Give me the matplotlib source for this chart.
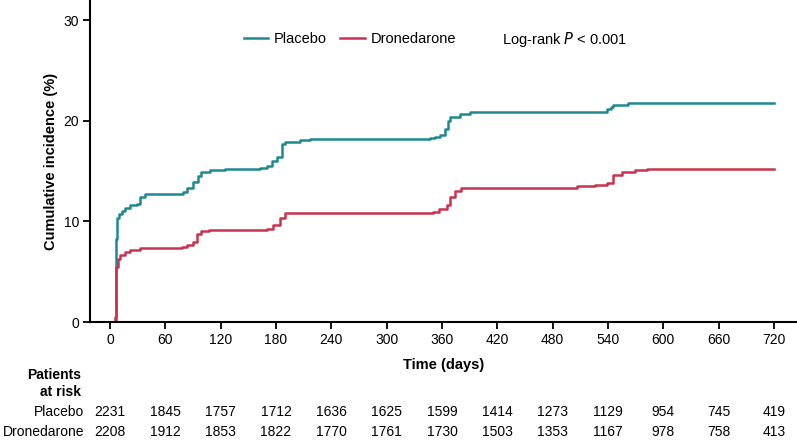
import matplotlib
matplotlib.use("Agg")
import matplotlib.pyplot as plt
from matplotlib import font_manager

names = {f.name for f in font_manager.fontManager.ttflist}
base = "Liberation Sans" if "Liberation Sans" in names else "DejaVu Sans"
plt.rcParams["font.family"] = [base, "DejaVu Sans"]

# Data
placebo_days = [0, 5, 6, 7, 8, 10, 13, 16, 22, 29, 32, 38, 79, 84, 90, 95, 99, 108, 125, 163, 170, 176, 181, 186, 190, 206, 217,
                347, 352, 358, 363, 366, 369, 380, 390, 539, 543, 546, 562, 720]
placebo_inc = [0, 0, 2.0, 8.2, 10.3, 10.7, 11.0, 11.3, 11.6, 11.7, 12.4, 12.7, 12.9, 13.3, 13.9, 14.5, 14.9, 15.1, 15.2, 15.3, 15.5, 16.0, 16.4, 17.7, 17.9, 18.1, 18.2,
               18.3, 18.4, 18.6, 19.2, 20.0, 20.4, 20.7, 20.9, 21.2, 21.4, 21.6, 21.8, 21.8]
drone_days = [0, 4, 5, 6, 7, 9, 11, 16, 22, 32, 78, 84, 90, 94, 99, 107, 170, 177, 184, 190,
              350, 357, 365, 369, 374, 381, 506, 526, 539, 546, 555, 569, 582, 720]
drone_inc = [0, 0, 0.5, 2.5, 5.5, 6.3, 6.7, 7.0, 7.2, 7.4, 7.5, 7.7, 8.0, 8.7, 9.0, 9.1, 9.2, 9.6, 10.3, 10.8,
             10.9, 11.2, 11.6, 12.4, 13.0, 13.3, 13.5, 13.6, 13.8, 14.6, 14.9, 15.1, 15.2, 15.2]

risk_times = [0, 60, 120, 180, 240, 300, 360, 420, 480, 540, 600, 660, 720]
risk_placebo = [2231, 1845, 1757, 1712, 1636, 1625, 1599, 1414, 1273, 1129, 954, 745, 419]
risk_drone = [2208, 1912, 1853, 1822, 1770, 1761, 1730, 1503, 1353, 1167, 978, 758, 413]
yticks = [0, 10, 20, 30]

teal = "#1E8A90"
red = "#C8344F"

fig = plt.figure(figsize=(7.97, 4.44), dpi=100)
ax = fig.add_axes([90 / 797, 1 - 322 / 444, 1 - 90 / 797, 322 / 444])
ax.step(placebo_days, placebo_inc, where="post", color=teal, lw=1.8, label="Placebo")
ax.step(drone_days, drone_inc, where="post", color=red, lw=1.8, label="Dronedarone")

ax.set_xlim(-21.7, 745)
ax.set_ylim(0, 32)
ax.set_xticks(risk_times)
ax.set_yticks(yticks)
ax.spines["top"].set_visible(False)
ax.spines["right"].set_visible(False)
for s in ("left", "bottom"):
    ax.spines[s].set_linewidth(1.5)
ax.tick_params(direction="out", length=5, width=1.3, labelsize=10, pad=3)
ax.set_ylabel("Cumulative incidence (%)", fontsize=10.5, fontweight="bold", labelpad=4)
ax.set_xlabel("Time (days)", fontsize=10.5, fontweight="bold", labelpad=8)

leg = ax.legend(loc="upper left", bbox_to_anchor=(0.209, 0.918), ncol=2, frameon=False,
                fontsize=10.5, handlelength=1.7, handletextpad=0.4, columnspacing=0.9,
                borderaxespad=0)
ax.text(0.583, 0.876, r"Log-rank $\it{P}$ < 0.001", transform=ax.transAxes, fontsize=10.5,
        va="center", ha="left")

# Risk table
trans = ax.get_xaxis_transform()
def fy(py):
    return (322 - py) / 322.0

fig.text(81 / 797, 1 - 375 / 444, "Patients", fontsize=10, fontweight="bold", ha="right", va="center")
fig.text(81 / 797, 1 - 392 / 444, "at risk", fontsize=10, fontweight="bold", ha="right", va="center")
fig.text(84 / 797, 1 - 412 / 444, "Placebo", fontsize=10, ha="right", va="center")
fig.text(84 / 797, 1 - 432 / 444, "Dronedarone", fontsize=10, ha="right", va="center")
for t, p, d in zip(risk_times, risk_placebo, risk_drone):
    ax.text(t, fy(412), str(p), transform=trans, ha="center", va="center", fontsize=10,
            clip_on=False)
    ax.text(t, fy(432), str(d), transform=trans, ha="center", va="center", fontsize=10,
            clip_on=False)

fig.savefig("out.png", dpi=100)
